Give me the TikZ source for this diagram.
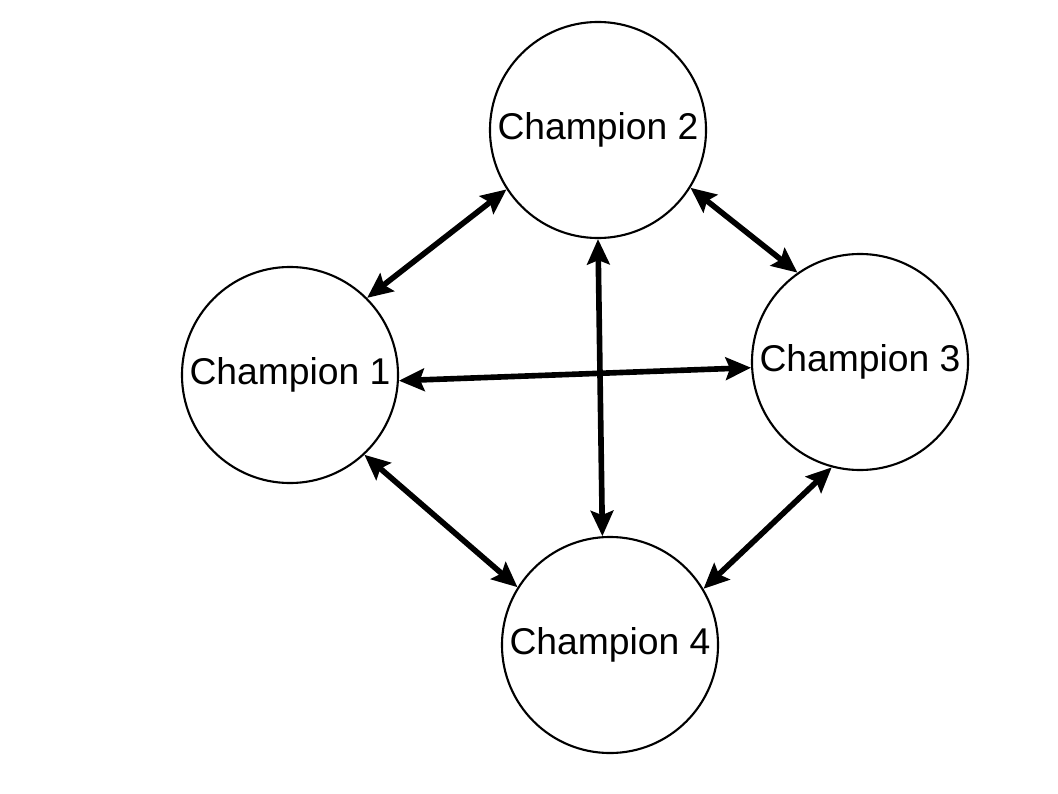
\documentclass[tikz,border=0pt]{standalone}
\usepackage{fontspec}
\setmainfont{Liberation Sans}
\usetikzlibrary{arrows.meta}

\begin{document}
\begin{tikzpicture}[x=0.025cm, y=-0.025cm,
		champ/.style={draw, circle, line width=1.5pt, minimum size=5.4cm, inner sep=0pt,
			font=\fontsize{26.5}{31}\selectfont},
		link/.style={line width=4pt, {Stealth[length=18pt, width=16pt, inset=3pt]}-{Stealth[length=18pt, width=16pt, inset=3pt]}}]
		% page size
		\useasboundingbox (0, 0) rectangle (1058, 794);
		
		% the four champions
		\node[champ] (c2) at (598, 130) {Champion 2};
		\node[champ] (c1) at (290, 375) {Champion 1};
		\node[champ] (c3) at (860, 362) {Champion 3};
		\node[champ] (c4) at (610, 645) {Champion 4};
		
		% links between them
		\draw[link] (c1.45) -- (c2.213);
		\draw[link] (c2.328) -- (c3.125);
		\draw[link] (c3.255) -- (c4.31);
		\draw[link] (c1.313) -- (c4.148);
		\draw[link] (c1.357) -- (c3.183);
		\draw[link] (c2.270) -- (c4.94);
	\end{tikzpicture}
\end{document}
